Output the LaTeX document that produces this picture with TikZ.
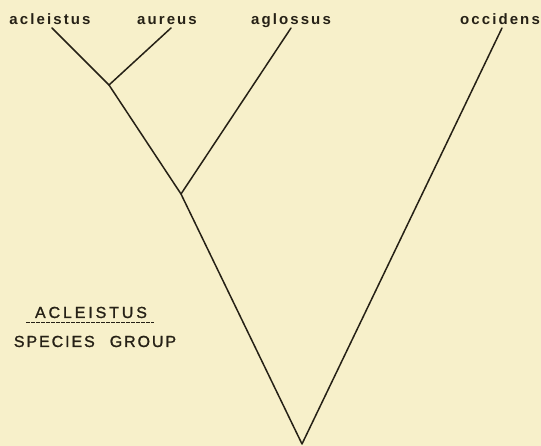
\documentclass[tikz,border=0pt]{standalone}
\usepackage{fontspec}
\setmainfont{Liberation Sans}
\newfontfamily\tiplab[LetterSpace=14]{Liberation Sans Bold}
\newfontfamily\grplab[LetterSpace=18,FakeBold=1.2]{Liberation Sans}
\newfontfamily\grplabb[LetterSpace=12,FakeBold=1.2]{Liberation Sans}
\definecolor{paper}{RGB}{247,240,202}
\definecolor{ink}{RGB}{38,33,22}
\begin{document}
\begin{tikzpicture}[x=1pt,y=-1pt,
  branch/.style={draw=ink,line width=1.5pt,line cap=round,line join=round},
  tiptext/.style={text=ink,anchor=base,inner sep=0pt,font=\tiplab\fontsize{15}{17}\selectfont},
  grptext/.style={text=ink,anchor=base,inner sep=0pt,font=\grplab\fontsize{16}{18}\selectfont},
  grptextb/.style={text=ink,anchor=base,inner sep=0pt,font=\grplabb\fontsize{16}{18}\selectfont}]
\fill[paper] (0,0) rectangle (541,446);
\useasboundingbox (0,0) rectangle (541,446);
% labels
\node[tiptext] (lacl) at (50,25) {acleistus};
\node[tiptext] (laur) at (167,25) {aureus};
\node[tiptext] (lagl) at (291,25) {aglossus};
\node[tiptext] (locc) at (500,25) {occidens};
\node[grptext] (gname) at (91,318) {ACLEISTUS};
\node[grptextb] (gdesc) at (95,347) {SPECIES\hspace{15pt}GROUP};
% tree points
\coordinate (tacl) at (52,28);
\coordinate (taur) at (171,28);
\coordinate (tagl) at (291,28);
\coordinate (tocc) at (502,28);
\coordinate (n1) at (109,85);
\coordinate (n2) at (181,194);
\coordinate (root) at (302,444);
\coordinate (ulA) at (26,322);
\coordinate (ulB) at (154,322);
% branches
\draw[branch] (tacl) -- (n1) -- (n2) -- (root) -- (tocc);
\draw[branch] (taur) -- (n1);
\draw[branch] (tagl) -- (n2);
\draw[ink,line width=0.9pt,dash pattern=on 3.5pt off 1.5pt] (ulA) -- (ulB);
\end{tikzpicture}
\end{document}
